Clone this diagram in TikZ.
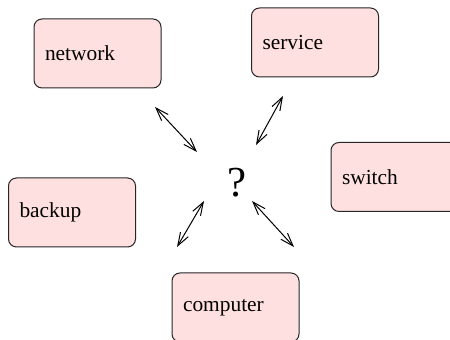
\documentclass[tikz,border=0pt]{standalone}
\usepackage{fontspec}
\setmainfont{Liberation Serif}
\usetikzlibrary{arrows.meta, positioning}
\definecolor{boxpink}{RGB}{255,224,224}
\tikzstyle{device} = [draw=black!85, fill=boxpink, rectangle, rounded corners=4pt, minimum width=63.5pt, minimum height=34.5pt, text width=52.5pt, inner xsep=5.5pt, align=left, line width=0.5pt, font=\fontsize{10.7}{13}\selectfont]
\tikzstyle{query} = [font=\fontsize{21.4}{26}\selectfont, inner sep=0pt]
\tikzstyle{arrow} = [line width=0.5pt, {Straight Barb[length=6.5pt,width=4.5pt]}-{Straight Barb[length=6.5pt,width=4.5pt]}]

\begin{document}
\begin{tikzpicture}[x=0.5pt, y=-0.5pt]
    \useasboundingbox (0,0) rectangle (450,340);
    \clip (0,0) rectangle (450,340);
    \node (network) [device] at (97.5,53.5) {network};
    \node (service) [device] at (315,42.5) {service};
    \node (switch) [device] at (394.5,177) {switch};
    \node (backup) [device] at (72,212.5) {backup};
    \node (computer) [device] at (235.5,307.5) {computer};
    \node (center) [query] at (237,183) {?};
    % free ends of the arrows
    \coordinate (nw-a) at (155,107);
    \coordinate (nw-b) at (197,152);
    \coordinate (sv-a) at (283,96);
    \coordinate (sv-b) at (256,145);
    \coordinate (bk-a) at (204,201);
    \coordinate (bk-b) at (177,247);
    \coordinate (cp-a) at (252,201);
    \coordinate (cp-b) at (294,247);
    \draw [arrow] (nw-a) -- (nw-b);
    \draw [arrow] (sv-a) -- (sv-b);
    \draw [arrow] (bk-a) -- (bk-b);
    \draw [arrow] (cp-a) -- (cp-b);
\end{tikzpicture}
\end{document}
